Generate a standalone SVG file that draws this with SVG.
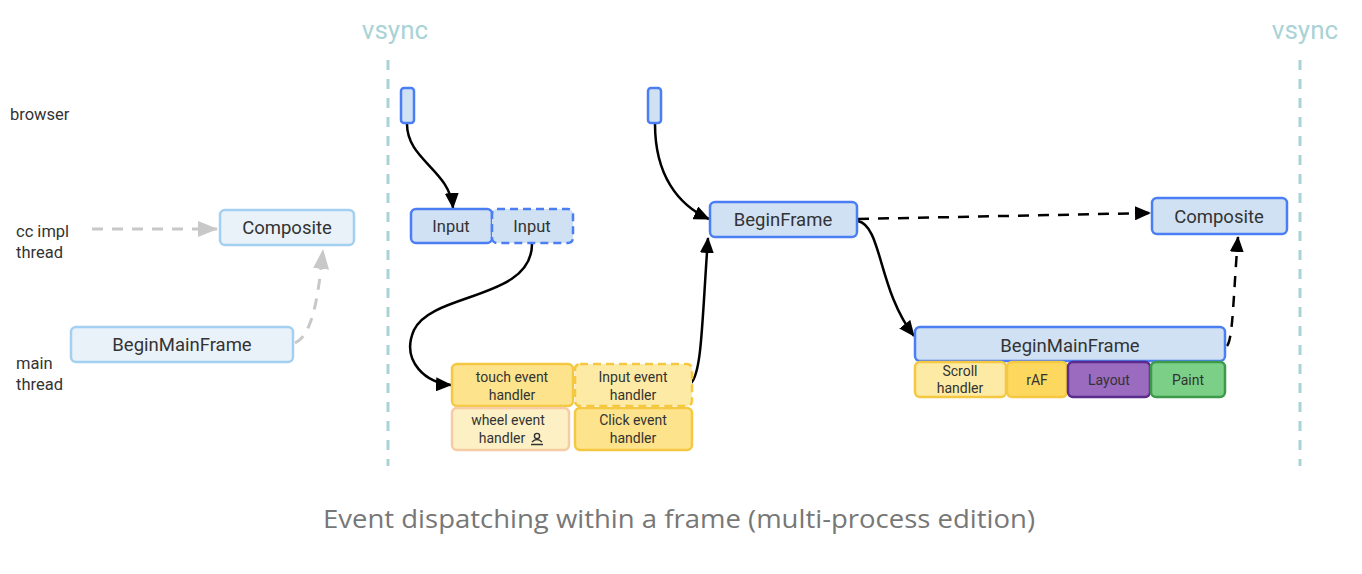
<svg xmlns="http://www.w3.org/2000/svg" width="1362" height="574" viewBox="0 0 1362 574">
<style>
text{font-family:Roboto,"Liberation Sans",sans-serif;fill:#333}
.lbl{font-size:16.5px}
.vs{font-size:26px;fill:#a9d3d6;text-anchor:middle}
.vline{stroke:#a9d3d6;stroke-width:3;stroke-dasharray:10 9;fill:none}
.bl{fill:#cfe1f3;stroke:#4c7ef3;stroke-width:2.5}
.lb{fill:#e9f1f9;stroke:#a3cff0;stroke-width:2.5}
.t18{font-size:18.5px;text-anchor:middle}
.t16{font-size:16.5px;text-anchor:middle}
.t13{font-size:14px;text-anchor:middle}
.ye{fill:#fde38c;stroke:#f5c842;stroke-width:2.5}
.ye2{fill:#fdeaa4;stroke:#f5c842;stroke-width:2.5}
.or{fill:#fdf0c4;stroke:#f5cca3;stroke-width:2.5}
.blk{fill:none;stroke:#000;stroke-width:2.5}
.dsh{stroke-dasharray:11 9}
.gry{fill:none;stroke:#c8c8c8;stroke-width:3;stroke-dasharray:11 9}
.cap{font-family:"Open Sans","Noto Sans",sans-serif;font-size:26px;fill:#777;text-anchor:middle}
</style>
<defs>
<marker id="ah" markerUnits="userSpaceOnUse" markerWidth="16" markerHeight="14" refX="15" refY="7" orient="auto"><path d="M0,0 L16,7 L0,14 z" fill="#000"/></marker>
<marker id="ag" markerUnits="userSpaceOnUse" markerWidth="20" markerHeight="16" refX="19" refY="8" orient="auto"><path d="M0,0 L20,8 L0,16 z" fill="#c8c8c8"/></marker>
</defs>
<g id="vsync">
<text class="vs" x="395" y="39">vsync</text>
<line class="vline" x1="388" y1="60" x2="388" y2="466"/>
<text class="vs" x="1305" y="39">vsync</text>
<line class="vline" x1="1300" y1="60" x2="1300" y2="466"/>
</g>
<g id="labels">
<text class="lbl" x="10" y="120">browser</text>
<text class="lbl" x="16" y="237">cc impl</text>
<text class="lbl" x="16" y="258">thread</text>
<text class="lbl" x="16" y="369">main</text>
<text class="lbl" x="16" y="390">thread</text>
</g>
<g id="connectors">
<path class="gry" d="M92,229 L217,229" marker-end="url(#ag)"/>
<path class="gry" d="M295,343 C312,335 318,300 323,250" marker-end="url(#ag)"/>
<path class="blk" d="M407,124 C407,160 450,170 453,208" marker-end="url(#ah)"/>
<path class="blk" d="M655,124 C655,175 678,205 709,219" marker-end="url(#ah)"/>
<path class="blk" d="M532,244 C532,300 432,292 414,330 C400,362 428,384 451,385" marker-end="url(#ah)"/>
<path class="blk" d="M691,383 C702,372 702,320 708,238" marker-end="url(#ah)"/>
<path class="blk" d="M858,221 C882,226 878,290 914,336" marker-end="url(#ah)"/>
<path class="blk dsh" d="M858,219 L1150,213" marker-end="url(#ah)"/>
<path class="blk dsh" d="M1227,346 C1233,338 1233,300 1238,237" marker-end="url(#ah)"/>
</g>
<g id="composite-left"><rect class="lb" x="220" y="210" width="134" height="35" rx="5"/><text class="t18" x="287" y="234">Composite</text></g>
<g id="beginmainframe-left"><rect class="lb" x="71" y="327" width="222" height="35" rx="5"/><text class="t18" x="182" y="351">BeginMainFrame</text></g>
<g id="browser-1"><rect class="bl" x="401" y="88" width="13" height="35" rx="3"/></g>
<g id="browser-2"><rect class="bl" x="648" y="88" width="13" height="35" rx="3"/></g>
<g id="input-1"><rect class="bl" x="411" y="209" width="81" height="34" rx="5"/><text class="t16" x="451" y="232">Input</text></g>
<g id="input-2"><rect class="bl" x="492" y="209" width="81" height="34" rx="5" stroke-dasharray="8 5"/><text class="t16" x="532" y="232">Input</text></g>
<g id="touch-handler"><rect class="ye" x="452" y="364" width="121" height="42" rx="5"/><text class="t13" x="512" y="382">touch event</text><text class="t13" x="512" y="400">handler</text></g>
<g id="input-handler"><rect class="ye2" x="575" y="364" width="117" height="42" rx="5" stroke-dasharray="8 5"/><text class="t13" x="633" y="382">Input event</text><text class="t13" x="633" y="400">handler</text></g>
<g id="wheel-handler"><rect class="or" x="452" y="408" width="117" height="42" rx="5"/><text class="t13" x="508" y="425">wheel event</text><text class="t13" x="502" y="443">handler</text>
<circle cx="537" cy="436" r="2.6" fill="none" stroke="#333" stroke-width="1.4"/><path d="M532,442 Q537,437 542,442 M531,444.5 L543,444.5" fill="none" stroke="#333" stroke-width="1.4"/></g>
<g id="click-handler"><rect class="ye" x="575" y="408" width="117" height="42" rx="5"/><text class="t13" x="633" y="425">Click event</text><text class="t13" x="633" y="443">handler</text></g>
<g id="beginframe"><rect class="bl" x="710" y="202" width="147" height="35" rx="5"/><text class="t18" x="783" y="226">BeginFrame</text></g>
<g id="composite-right"><rect class="bl" x="1152" y="198" width="135" height="36" rx="5"/><text class="t18" x="1219" y="223">Composite</text></g>
<g id="beginmainframe-right"><rect class="bl" x="915" y="327" width="310" height="34" rx="5"/><text class="t18" x="1070" y="352">BeginMainFrame</text></g>
<g id="scroll-handler"><rect class="ye2" x="915" y="362" width="91" height="35" rx="5"/><text class="t13" x="960" y="376">Scroll</text><text class="t13" x="960" y="393">handler</text></g>
<g id="raf"><rect x="1007" y="362" width="60" height="35" rx="5" fill="#fcd95e" stroke="#f5c842" stroke-width="2.5"/><text class="t13" x="1037" y="385">rAF</text></g>
<g id="layout"><rect x="1068" y="362" width="82" height="35" rx="5" fill="#9a6bbf" stroke="#5c2c8c" stroke-width="2.5"/><text class="t13" x="1109" y="385">Layout</text></g>
<g id="paint"><rect x="1151" y="362" width="74" height="35" rx="5" fill="#7bcf87" stroke="#3d9a4b" stroke-width="2.5"/><text class="t13" x="1188" y="385">Paint</text></g>
<text class="cap" x="679" y="528" textLength="712" lengthAdjust="spacingAndGlyphs">Event dispatching within a frame (multi-process edition)</text>
</svg>
